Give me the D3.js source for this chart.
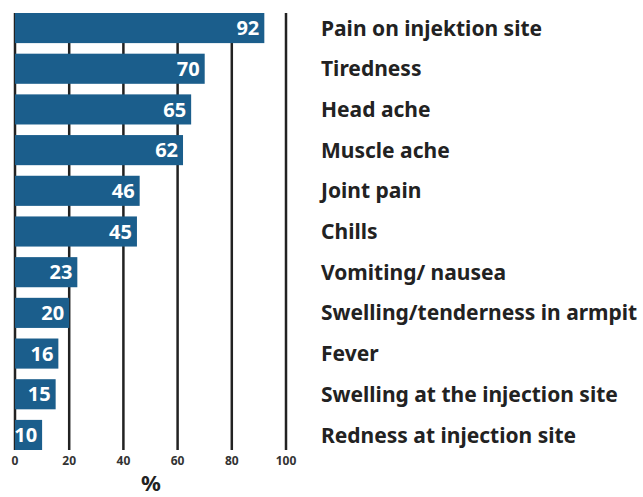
<!DOCTYPE html>
<html>
<head>
<meta charset="utf-8">
<script src="https://cdn.jsdelivr.net/npm/d3@7"></script>
<style>
  body { margin: 0; background: #fff; }
  text { font-family: "Noto Sans", sans-serif; }
</style>
</head>
<body>
<svg id="chart" width="643" height="497"></svg>
<script>
const categories = [
  "Pain on injektion site", "Tiredness", "Head ache", "Muscle ache", "Joint pain",
  "Chills", "Vomiting/ nausea", "Swelling/tenderness in armpit", "Fever",
  "Swelling at the injection site", "Redness at injection site"
];
const values = [92, 70, 65, 62, 46, 45, 23, 20, 16, 15, 10];
const ticks = [0, 20, 40, 60, 80, 100];

const svg = d3.select("#chart");
const x = d3.scaleLinear().domain([0, 100]).range([15, 286]);
const y = d3.scaleBand().domain(categories).range([13, 450]).paddingInner(0.26).paddingOuter(0);

// grid lines
svg.append("g")
  .selectAll("line")
  .data(ticks)
  .join("line")
  .attr("x1", d => x(d)).attr("x2", d => x(d))
  .attr("y1", 13).attr("y2", 450)
  .attr("stroke", "#222")
  .attr("stroke-width", 2.5);

svg.append("g")
  .selectAll("rect")
  .data(values)
  .join("rect")
  .attr("x", x(0))
  .attr("y", (d, i) => y(categories[i]))
  .attr("width", d => x(d) - x(0))
  .attr("height", y.bandwidth())
  .attr("fill", "#1b5e8c");

svg.append("g")
  .selectAll("text")
  .data(values)
  .join("text")
  .attr("x", d => x(d) - 5)
  .attr("y", (d, i) => y(categories[i]) + y.bandwidth() / 2)
  .attr("dy", "0.36em")
  .attr("text-anchor", "end")
  .attr("fill", "#fff")
  .attr("font-weight", "bold")
  .attr("font-size", 20)
  .text(d => d);

svg.append("g")
  .selectAll("text")
  .data(categories)
  .join("text")
  .attr("x", 321)
  .attr("y", d => y(d) + y.bandwidth() / 2)
  .attr("dy", "0.36em")
  .attr("fill", "#222")
  .attr("font-weight", "bold")
  .attr("font-size", 21)
  .text(d => d);

svg.append("g")
  .selectAll("text")
  .data(ticks)
  .join("text")
  .attr("x", d => x(d))
  .attr("y", 465)
  .attr("text-anchor", "middle")
  .attr("fill", "#333")
  .attr("font-weight", "bold")
  .attr("font-size", 12)
  .text(d => d);

svg.append("text")
  .attr("x", 151)
  .attr("y", 491)
  .attr("text-anchor", "middle")
  .attr("fill", "#222")
  .attr("font-weight", "bold")
  .attr("font-size", 22)
  .text("%");
</script>
</body>
</html>
